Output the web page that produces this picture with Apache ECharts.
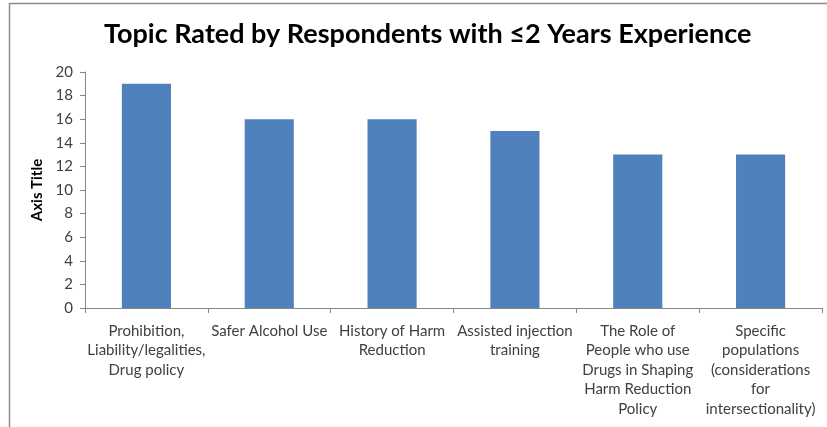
<!DOCTYPE html>
<html>
<head>
<meta charset="utf-8">
<script src="https://cdn.jsdelivr.net/npm/echarts@6/dist/echarts.min.js"></script>
<style>
  html, body { margin: 0; padding: 0; background: #fff; }
  #chart { width: 827px; height: 427px; }
</style>
</head>
<body>
<div id="chart"></div>
<script>
// Topics and how many respondents (≤2 years experience) rated each
const categories = [
  'Prohibition,\nLiability/legalities,\nDrug policy',
  'Safer Alcohol Use',
  'History of Harm\nReduction',
  'Assisted injection\ntraining',
  'The Role of\nPeople who use\nDrugs in Shaping\nHarm Reduction\nPolicy',
  'Specific\npopulations\n(considerations\nfor\nintersectionality)'
];
const counts = [19, 16, 16, 15, 13, 13];
const yTicks = { min: 0, max: 20, interval: 2 };

const titleText = 'Topic Rated by Respondents with ≤2 Years Experience';
const yAxisTitle = 'Axis Title';

const axisGray = '#868686';
const textColor = '#404040';
const font = 'Lato, "Open Sans", sans-serif';

const chart = echarts.init(document.getElementById('chart'), null, { renderer: 'canvas' });
chart.setOption({
  animation: false,
  backgroundColor: '#ffffff',
  graphic: [{
    type: 'rect',
    shape: { x: 9.5, y: 3.5, width: 830, height: 440 },
    style: { fill: 'none', stroke: '#8c8c8c', lineWidth: 1.5 },
    silent: true
  }],
  title: {
    text: titleText,
    left: 99,
    top: 16,
    textStyle: { fontFamily: font, fontWeight: 'bold', fontSize: 27, color: '#000' }
  },
  grid: { left: 85, right: 5, top: 72, bottom: 119, containLabel: false },
  xAxis: {
    type: 'category',
    data: categories,
    axisLine: { lineStyle: { color: axisGray, width: 1 } },
    axisTick: { show: true, length: 5, alignWithLabel: false, lineStyle: { color: axisGray } },
    axisLabel: {
      interval: 0,
      margin: 13,
      color: textColor,
      fontFamily: font,
      fontSize: 15,
      lineHeight: 19.5,
      align: 'center'
    },
    splitLine: { show: false }
  },
  yAxis: {
    type: 'value',
    min: yTicks.min,
    max: yTicks.max,
    interval: yTicks.interval,
    name: yAxisTitle,
    nameLocation: 'middle',
    nameGap: 38,
    nameRotate: 90,
    nameTextStyle: { fontFamily: font, fontWeight: 'bold', fontSize: 15, color: '#000' },
    axisLine: { show: true, lineStyle: { color: axisGray, width: 1 } },
    axisTick: { show: true, length: 5, lineStyle: { color: axisGray } },
    axisLabel: { margin: 12, color: textColor, fontFamily: font, fontSize: 15 },
    splitLine: { show: false }
  },
  series: [{
    type: 'bar',
    data: counts,
    barWidth: '40%',
    itemStyle: { color: '#4F81BD' }
  }]
});
</script>
</body>
</html>
